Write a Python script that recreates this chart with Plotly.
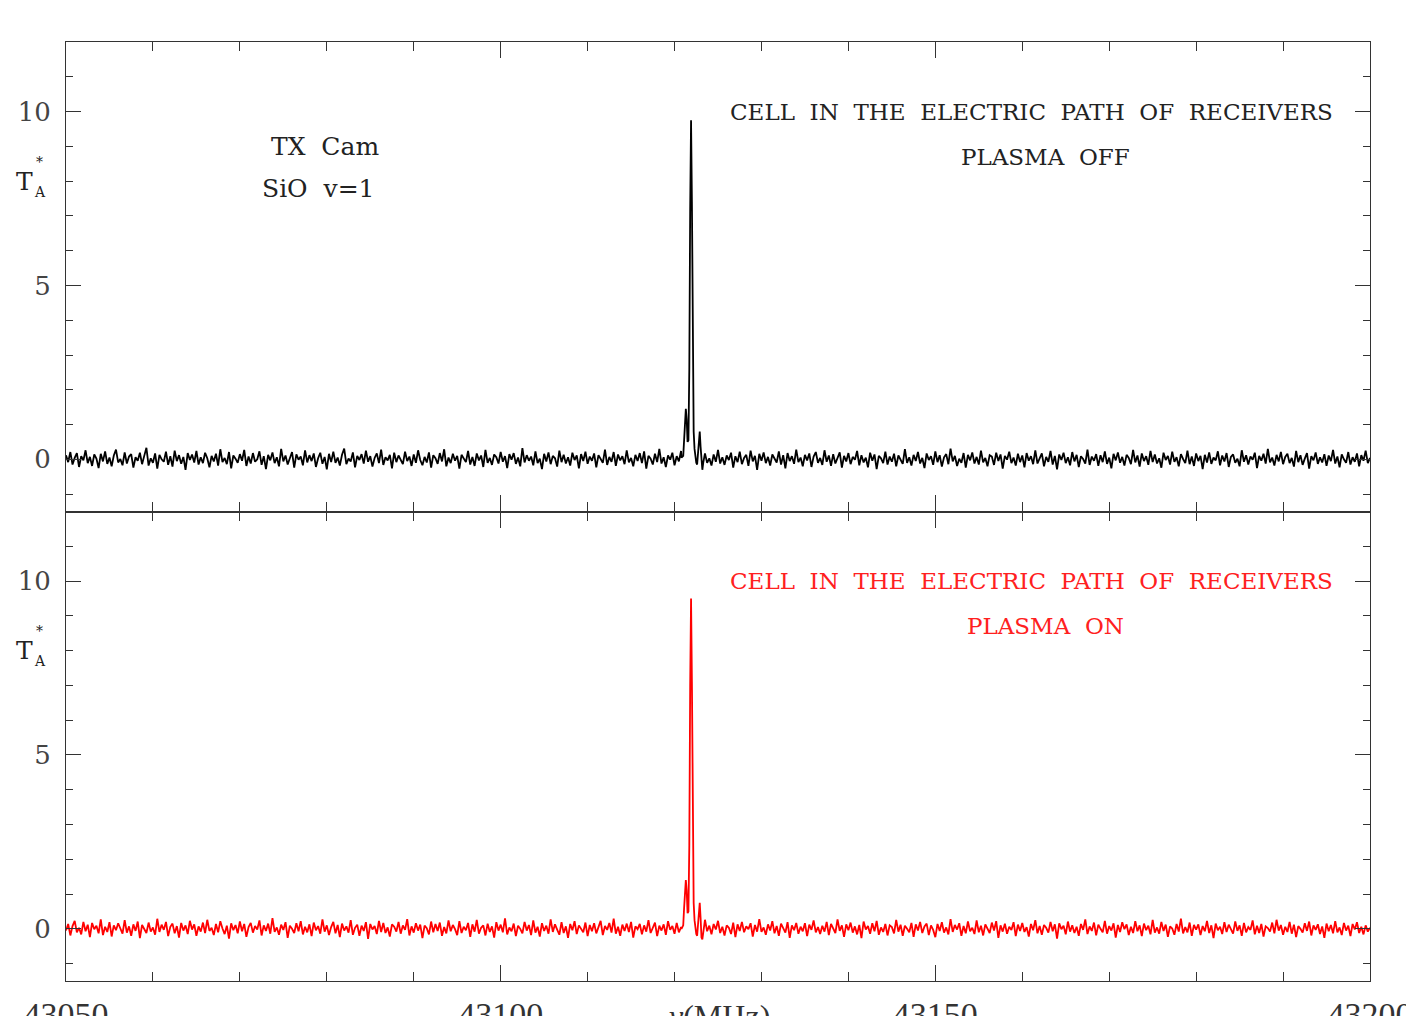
import numpy as np
import plotly.graph_objects as go
from plotly.subplots import make_subplots

# ---------------- data ----------------
f_start = 43050.0
f_step = 0.25   # MHz per channel, 43050 .. 43200

# baseline noise (K), plasma OFF
off_noise = [
    0.12, -0.08, 0.21, -0.15, 0.04, 0.18, -0.22, 0.09, -0.03, 0.26, -0.11, 0.07, -0.19, 0.14, 0.02, -0.25, 0.16, -0.06, 0.23, -0.13,
    0.05, -0.2, 0.11, 0.28, -0.09, 0.01, -0.17, 0.2, -0.12, 0.08, 0.15, -0.24, 0.06, -0.04, 0.19, -0.14, 0.1, 0.33, -0.18, 0.03,
    -0.1, 0.17, -0.27, 0.13, 0.0, -0.07, 0.22, -0.16, 0.09, -0.21, 0.25, -0.05, 0.12, -0.13, 0.07, -0.3, 0.18, -0.02, 0.14, -0.09,
    0.24, -0.15, 0.06, -0.11, 0.19, 0.03, -0.23, 0.1, -0.06, 0.16, -0.18, 0.29, -0.08, 0.04, -0.14, 0.21, -0.26, 0.11, 0.02, -0.1,
    0.15, -0.04, 0.27, -0.19, 0.08, -0.12, 0.18, -0.07, 0.0, 0.23, -0.16, 0.09, -0.28, 0.13, -0.03, 0.2, -0.11, 0.06, -0.2, 0.3,
    -0.06, 0.11, -0.15, 0.04, 0.21, -0.24, 0.14, -0.01, 0.08, -0.17, 0.26, -0.09, 0.12, -0.05, 0.17, -0.22, 0.03, 0.19, -0.13, 0.07,
    -0.29, 0.16, -0.08, 0.22, -0.1, 0.05, -0.18, 0.13, 0.31, -0.14, 0.02, -0.06, 0.2, -0.23, 0.1, -0.02, 0.15, -0.12, 0.25, -0.07,
    0.09, -0.21, 0.04, 0.17, -0.11, 0.28, -0.16, 0.06, -0.03, 0.13, -0.26, 0.19, -0.08, 0.11, 0.0, -0.14, 0.22, -0.05, 0.08, -0.19,
    0.14, -0.1, 0.26, -0.02, -0.17, 0.07, -0.09, 0.2, -0.24, 0.12, 0.03, -0.13, 0.18, -0.06, 0.29, -0.2, 0.05, -0.11, 0.16, -0.04,
    0.1, -0.27, 0.13, 0.01, -0.08, 0.24, -0.15, 0.07, -0.19, 0.17, -0.03, 0.11, -0.22, 0.27, -0.1, 0.04, -0.16, 0.14, 0.06, -0.12,
    0.21, -0.07, 0.09, -0.25, 0.15, -0.01, 0.18, -0.13, 0.05, -0.2, 0.32, -0.09, 0.12, -0.04, 0.08, -0.17, 0.23, -0.11, 0.02, -0.28,
    0.16, -0.06, 0.2, -0.14, 0.1, 0.03, -0.21, 0.25, -0.08, 0.13, -0.12, 0.06, -0.18, 0.19, -0.02, 0.11, -0.26, 0.15, -0.05, 0.22,
    -0.13, 0.08, -0.04, 0.17, -0.23, 0.12, 0.0, -0.1, 0.28, -0.16, 0.07, -0.07, 0.21, -0.19, 0.14, -0.03, 0.09, -0.14, 0.26, -0.09,
    0.04, -0.2, 0.13, -0.05, 0.18, -0.11, 0.23, -0.27, 0.1, 0.02, -0.15, 0.16, -0.08, 0.3, -0.12, 0.06, -0.22, 0.11, -0.01, 0.19,
    -0.17, 0.09, -0.06, 0.24, -0.13, 0.05, -0.09, 0.15, -0.21, 0.2, -0.03, 0.12, -0.25, 0.08, 0.17, -0.1, 0.03, -0.18, 0.14, -0.07,
    0.27, -0.12, 0.06, -0.16, 0.11, -0.02, 0.19, -0.24, 0.09, -0.08, 0.22, -0.14, 0.04, 0.13, -0.19, 0.25, -0.06, 0.1, -0.3, 0.16,
    -0.04, 0.2, -0.11, 0.07, -0.18, 0.14, 0.01, -0.09, 0.23, -0.15, 0.12, -0.26, 0.18, -0.05, 0.09, -0.13, 0.28, -0.08, 0.05, -0.2,
    0.13, -0.03, 0.17, -0.22, 0.08, 0.21, -0.1, 0.04, -0.16, 0.26, -0.07, 0.11, -0.19, 0.15, -0.12, 0.02, 0.2, -0.24, 0.1, -0.06,
    0.18, -0.14, 0.07, -0.01, 0.24, -0.17, 0.12, -0.09, 0.05, -0.23, 0.19, -0.04, 0.14, -0.28, 0.1, 0.03, -0.11, 0.22, -0.15, 0.08,
    -0.07, 0.16, -0.2, 0.11, 0.0, -0.13, 0.29, -0.1, 0.06, -0.18, 0.13, -0.05, 0.21, -0.12, 0.04, -0.25, 0.17, -0.02, 0.09, -0.16,
    0.23, -0.08, 0.12, -0.21, 0.06, 0.15, -0.14, 0.31, -0.06, 0.1, -0.19, 0.02, -0.1, 0.18, -0.24, 0.13, -0.03, 0.2, -0.12, 0.07,
    -0.15, 0.25, -0.09, 0.04, -0.2, 0.12, 0.08, -0.16, 0.19, -0.05, 0.14, -0.27, 0.1, -0.01, 0.22, -0.11, 0.05, -0.18, 0.16, -0.08,
    0.11, -0.23, 0.18, -0.04, 0.09, -0.14, 0.26, -0.12, 0.03, 0.17, -0.2, 0.07, -0.07, 0.24, -0.15, 0.1, -0.29, 0.14, -0.02, 0.19,
    -0.11, 0.06, -0.17, 0.21, -0.06, 0.13, -0.22, 0.09, 0.01, -0.12, 0.28, -0.16, 0.08, -0.04, 0.15, -0.19, 0.12, -0.08, 0.23, -0.13,
    0.05, -0.26, 0.16, -0.03, 0.2, -0.1, 0.07, -0.18, 0.13, 0.04, -0.14, 0.27, -0.09, 0.11, -0.21, 0.17, -0.05, 0.09, -0.16, 0.24,
    -0.08, 0.14, -0.12, 0.03, -0.24, 0.19, -0.02, 0.1, -0.15, 0.22, -0.07, 0.06, -0.2, 0.15, 0.01, -0.11, 0.25, -0.14, 0.08, -0.19,
    0.17, -0.05, 0.1, -0.28, 0.13, -0.09, 0.2, -0.13, 0.05, -0.03, 0.23, -0.17, 0.11, -0.06, 0.18, -0.22, 0.07, 0.14, -0.1, 0.02,
    -0.2, 0.26, -0.07, 0.12, -0.15, 0.08, -0.01, 0.19, -0.25, 0.1, -0.04, 0.16, -0.12, 0.3, -0.09, 0.05, -0.18, 0.13, -0.06, 0.21,
    -0.14, 0.07, 0.16, -0.11, 0.04, -0.21, 0.24, -0.08, 0.12, -0.16, 0.02, 0.18, -0.27, 0.09, -0.03, 0.2, -0.13, 0.06, -0.09, 0.15,
    -0.19, 0.11, -0.05, 0.27, -0.12, 0.08, -0.23, 0.14, 0.0, -0.1, 0.21, -0.15, 0.06, -0.07, 0.17, -0.2, 0.12, -0.04, 0.25, -0.11,
    0.04,
]

# baseline noise (K), plasma ON
on_noise = [
    -0.05, 0.14, -0.19, 0.08, 0.23, -0.1, 0.03, -0.16, 0.2, -0.07, 0.12, -0.24, 0.17, -0.01, 0.09, -0.13, 0.27, -0.18, 0.06, -0.09,
    0.19, -0.22, 0.1, -0.04, 0.16, 0.02, -0.14, 0.25, -0.11, 0.07, -0.2, 0.13, -0.06, 0.21, -0.27, 0.11, 0.0, -0.12, 0.18, -0.08,
    0.04, -0.17, 0.29, -0.09, 0.12, -0.03, 0.2, -0.21, 0.06, 0.15, -0.13, 0.08, -0.25, 0.17, -0.05, 0.1, -0.15, 0.23, -0.02, 0.13,
    -0.2, 0.07, -0.08, 0.18, -0.12, 0.26, -0.06, 0.03, -0.18, 0.14, -0.1, 0.22, 0.01, -0.15, 0.09, -0.28, 0.16, -0.04, 0.11, -0.13,
    0.21, -0.07, 0.14, -0.23, 0.05, 0.17, -0.11, 0.08, -0.02, 0.24, -0.19, 0.1, -0.06, 0.15, -0.14, 0.31, -0.09, 0.04, -0.17, 0.12,
    -0.03, 0.19, -0.26, 0.09, 0.0, -0.12, 0.16, -0.07, 0.22, -0.16, 0.06, -0.1, 0.13, -0.21, 0.18, -0.04, 0.08, -0.14, 0.27, -0.08,
    0.1, -0.18, 0.05, 0.2, -0.13, 0.11, -0.24, 0.15, -0.05, 0.07, -0.11, 0.25, -0.17, 0.03, 0.12, -0.2, 0.09, -0.06, 0.19, -0.29,
    0.14, -0.02, 0.08, -0.15, 0.23, -0.09, 0.17, -0.12, 0.04, -0.22, 0.13, 0.06, -0.08, 0.2, -0.14, 0.1, -0.03, 0.28, -0.19, 0.07,
    -0.11, 0.16, -0.05, 0.12, -0.27, 0.09, 0.02, -0.16, 0.21, -0.1, 0.14, -0.06, 0.18, -0.2, 0.05, -0.13, 0.24, -0.07, 0.11, -0.01,
    -0.18, 0.22, -0.12, 0.06, -0.04, 0.17, -0.23, 0.13, -0.08, 0.26, -0.14, 0.03, 0.1, -0.19, 0.15, -0.09, 0.07, -0.25, 0.19, -0.05,
    0.12, -0.1, 0.3, -0.16, 0.04, -0.07, 0.15, -0.21, 0.09, 0.0, -0.13, 0.2, -0.05, 0.11, -0.18, 0.24, -0.11, 0.06, -0.22, 0.16,
    -0.06, 0.09, -0.14, 0.27, -0.09, 0.13, -0.02, -0.17, 0.19, -0.12, 0.07, -0.26, 0.14, -0.04, 0.22, -0.15, 0.1, 0.01, -0.1, 0.18,
    -0.21, 0.11, -0.07, 0.16, -0.13, 0.05, 0.23, -0.18, 0.08, -0.03, 0.17, -0.11, 0.29, -0.14, 0.06, -0.2, 0.12, -0.06, 0.15, -0.09,
    0.2, -0.25, 0.07, -0.01, 0.14, -0.16, 0.1, -0.08, 0.25, -0.12, 0.04, 0.18, -0.21, 0.09, -0.05, 0.13, -0.17, 0.22, -0.03, 0.08,
    -0.14, 0.17, -0.1, 0.05, -0.28, 0.12, -0.04, 0.21, -0.09, 0.15, -0.19, 0.02, 0.11, -0.13, 0.26, -0.07, 0.09, -0.16, 0.14, -0.02,
    0.23, -0.12, 0.06, -0.19, 0.1, 0.03, -0.15, 0.18, -0.24, 0.13, -0.06, 0.2, -0.1, 0.07, -0.01, 0.16, -0.22, 0.11, -0.08, 0.28,
    -0.09, 0.04, -0.17, 0.13, -0.05, 0.22, -0.13, 0.08, -0.2, 0.15, 0.01, -0.11, 0.19, -0.26, 0.1, -0.04, 0.17, -0.14, 0.06, -0.07,
    0.16, -0.21, 0.12, -0.03, 0.24, -0.1, 0.05, -0.15, 0.09, -0.08, 0.2, -0.18, 0.14, 0.02, -0.12, 0.27, -0.06, 0.1, -0.23, 0.13,
    -0.04, 0.18, -0.11, 0.07, -0.16, 0.11, -0.27, 0.21, -0.02, 0.08, -0.14, 0.16, -0.07, 0.23, -0.17, 0.04, -0.09, 0.14, -0.19, 0.1,
    0.05, -0.13, 0.26, -0.08, 0.12, -0.2, 0.09, 0.0, -0.1, 0.17, -0.23, 0.13, -0.05, 0.2, -0.12, 0.07, 0.15, -0.18, 0.1, -0.03,
    -0.24, 0.14, -0.06, 0.19, -0.11, 0.04, -0.16, 0.28, -0.09, 0.11, -0.02, 0.16, -0.2, 0.08, -0.13, 0.21, -0.07, 0.03, -0.15, 0.24,
    -0.1, 0.09, -0.19, 0.13, 0.02, -0.12, 0.18, -0.05, 0.22, -0.26, 0.1, -0.08, 0.15, -0.14, 0.06, -0.03, 0.19, -0.21, 0.12, -0.06,
    0.17, -0.09, 0.05, -0.22, 0.14, -0.04, 0.25, -0.13, 0.08, -0.17, 0.11, 0.03, -0.11, 0.2, -0.07, 0.13, -0.28, 0.16, -0.01, 0.09,
    -0.16, 0.21, -0.08, 0.1, -0.12, 0.06, -0.2, 0.14, -0.03, 0.27, -0.15, 0.07, -0.06, 0.18, -0.19, 0.12, 0.0, -0.1, 0.23, -0.14,
    0.08, -0.05, 0.16, -0.25, 0.11, -0.09, 0.19, -0.01, 0.13, -0.18, 0.06, -0.12, 0.22, -0.07, 0.1, -0.21, 0.15, -0.04, 0.09, -0.16,
    0.26, -0.11, 0.04, -0.14, 0.2, -0.06, 0.12, -0.23, 0.07, 0.01, -0.17, 0.14, -0.08, 0.29, -0.13, 0.05, -0.1, 0.18, -0.2, 0.11,
    -0.02, 0.13, -0.18, 0.08, -0.07, 0.23, -0.12, 0.1, -0.27, 0.15, -0.04, 0.06, -0.15, 0.19, -0.09, 0.12, -0.01, -0.14, 0.21, -0.06,
    0.1, -0.2, 0.17, -0.1, 0.05, -0.03, 0.24, -0.16, 0.09, -0.12, 0.14, -0.22, 0.07, 0.02, -0.08, 0.18, -0.13, 0.26, -0.05, 0.11,
    -0.17, 0.06, -0.09, 0.2, -0.14, 0.12, -0.24, 0.08, 0.0, -0.11, 0.16, -0.06, 0.21, -0.19, 0.1, -0.03, 0.13, -0.15, 0.07, -0.26,
    0.15, -0.07, 0.11, -0.13, 0.22, -0.1, 0.04, -0.18, 0.17, -0.05, 0.09, -0.21, 0.14, -0.02, 0.19, -0.12, 0.06, -0.16, 0.1, -0.08,
    0.03,
]

# SiO v=1 maser line profile (finer channels), frequencies in MHz
line_freq = [43120.8, 43121.0, 43121.1, 43121.2, 43121.3, 43121.4, 43121.5, 43121.6, 43121.7,
             43121.8, 43121.9, 43122.0, 43122.1, 43122.2, 43122.3, 43122.4, 43122.5, 43122.6,
             43122.7, 43122.8, 43122.9, 43123.0, 43123.1, 43123.2, 43123.3, 43123.4]
off_line = [0.05, 0.1, 0.55, 1.2, 1.45, 1.15, 0.5, 0.55, 2.6,
            7.2, 9.75, 7.4, 3.0, 0.8, 0.3, 0.0, -0.1, -0.15,
            0.25, 0.7, 0.8, 0.35, -0.2, -0.3, -0.1, 0.0]
on_line = [0.0, 0.1, 0.6, 1.25, 1.4, 1.1, 0.45, 0.5, 2.4,
           7.0, 9.5, 7.1, 2.8, 0.75, 0.25, -0.05, -0.15, -0.2,
           0.2, 0.65, 0.75, 0.3, -0.25, -0.3, -0.1, 0.05]

x_ticks = [43050, 43100, 43150, 43200]
y_ticks = [0, 5, 10]


def build(noise, line_f, line_v):
    fr = f_start + f_step * np.arange(len(noise))
    keep = (fr < line_f[0]) | (fr > line_f[-1])
    xs = np.concatenate([fr[keep], np.array(line_f)])
    ys = np.concatenate([np.array(noise)[keep], np.array(line_v)])
    order = np.argsort(xs)
    return xs[order], ys[order]


x_off, y_off = build(off_noise, line_freq, off_line)
x_on, y_on = build(on_noise, line_freq, on_line)

# ---------------- figure ----------------
FONT = "DejaVu Serif"
NUMFONT = "Liberation Serif"
fig = make_subplots(rows=2, cols=1, shared_xaxes=True, vertical_spacing=0)

fig.add_trace(go.Scatter(x=x_off, y=y_off, mode="lines",
                         line=dict(color="black", width=1.8)), row=1, col=1)
fig.add_trace(go.Scatter(x=x_on, y=y_on, mode="lines",
                         line=dict(color="#ff0000", width=1.8)), row=2, col=1)

axis_common = dict(
    showgrid=False, zeroline=False, showline=True, linecolor="#333333", linewidth=1.1,
    mirror="allticks", ticks="inside", tickcolor="#333333",
)

for r in (1, 2):
    fig.update_xaxes(
        range=[43050, 43200], tickmode="array", tickvals=x_ticks,
        ticktext=[str(v) for v in x_ticks], ticklen=16, tickwidth=1.2,
        minor=dict(dtick=10, ticklen=9, ticks="inside", tickcolor="#333333", tickwidth=1.2),
        showticklabels=(r == 2),
        tickfont=dict(family=NUMFONT, size=34, color="#333333"),
        ticklabelstandoff=3, ticklabeloverflow="allow",
        automargin=False,
        row=r, col=1, **axis_common)
    fig.update_yaxes(
        range=[-1.5, 12], tickmode="array", tickvals=y_ticks,
        ticktext=[str(v) for v in y_ticks], ticklen=15, tickwidth=1.2,
        minor=dict(dtick=1, ticklen=7, ticks="inside", tickcolor="#333333", tickwidth=1.2),
        tickfont=dict(family=FONT, size=26, color="#444444"),
        ticklabelstandoff=9,
        automargin=False,
        row=r, col=1, **axis_common)

anns = []
for r, col in ((1, "#222222"), (2, "#ff2020")):
    yr = "y" if r == 1 else "y2"
    xr = "x" if r == 1 else "x2"
    anns.append(dict(x=43161.1, y=10, xref=xr, yref=yr,
                     text="CELL  IN  THE  ELECTRIC  PATH  OF  RECEIVERS",
                     showarrow=False, font=dict(family=FONT, size=23, color=col)))
    anns.append(dict(x=43162.7, y=8.7, xref=xr, yref=yr,
                     text="PLASMA  OFF" if r == 1 else "PLASMA  ON",
                     showarrow=False, font=dict(family=FONT, size=23, color=col)))
    # T*_A with stacked super/subscript
    anns.append(dict(x=-0.0322, y=8.0, xref="paper", yref=yr, text="T",
                     xanchor="center", borderpad=0,
                     showarrow=False, font=dict(family=FONT, size=25, color="#222222")))
    anns.append(dict(x=-0.0207, y=8.55, xref="paper", yref=yr, text="*",
                     xanchor="center", borderpad=0,
                     showarrow=False, font=dict(family=FONT, size=14, color="#222222")))
    anns.append(dict(x=-0.0200, y=7.7, xref="paper", yref=yr, text="A",
                     xanchor="center", borderpad=0,
                     showarrow=False, font=dict(family=FONT, size=14, color="#222222")))

anns.append(dict(x=43079.8, y=9.0, xref="x", yref="y", text="TX  Cam",
                 showarrow=False, font=dict(family=FONT, size=25, color="#222222")))
anns.append(dict(x=43079.0, y=7.8, xref="x", yref="y", text="SiO  v=1",
                 showarrow=False, font=dict(family=FONT, size=25, color="#222222")))
anns.append(dict(x=43125.2, y=-0.016, xref="x2", yref="paper", yanchor="top",
                 text="<i>ν</i>(MHz)", showarrow=False,
                 font=dict(family=NUMFONT, size=32, color="#333333")))

fig.update_layout(
    width=1406, height=1016,
    margin=dict(l=66, r=36, t=42, b=35, autoexpand=False),
    paper_bgcolor="white", plot_bgcolor="white",
    showlegend=False, annotations=anns,
)

fig.write_html("out.html")
